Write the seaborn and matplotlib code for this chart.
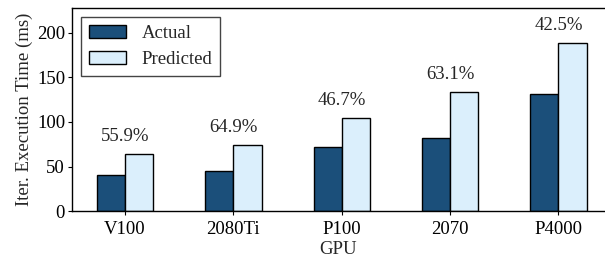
import seaborn as sns
import pandas as pd
import matplotlib.pyplot as plt

# data
gpus = ['V100', '2080Ti', 'P100', '2070', 'P4000']
actual = [40.5, 45.0, 71.5, 82.0, 131.8]
predicted = [63.7, 74.0, 104.8, 133.7, 188.4]
errors = ['55.9%', '64.9%', '46.7%', '63.1%', '42.5%']

sns.set_theme(style='ticks')
plt.rcParams['font.family'] = ['Liberation Serif', 'DejaVu Serif']
fs = 13.5

fig, ax = plt.subplots(figsize=(6.05, 2.58), dpi=100)
fig.subplots_adjust(left=0.119, right=1.0, top=0.969, bottom=0.182)

df = pd.DataFrame({'GPU': gpus * 2,
                   'time': actual + predicted,
                   'kind': ['Actual'] * 5 + ['Predicted'] * 5})

sns.barplot(df, x='GPU', y='time', hue='kind', order=gpus,
            palette=['#1b4f7a', '#dbeffc'], width=0.52,
            edgecolor='black', linewidth=1.0, saturation=1, ax=ax)

# error labels above each group
for i, txt in enumerate(errors):
    ax.text(i, predicted[i] + 10, txt, ha='center', va='bottom', fontsize=fs)

ax.set_xlim(-0.49, 4.43)
ax.set_ylim(0, 228)
ax.set_yticks([0, 50, 100, 150, 200])
ax.set_ylabel('Iter. Execution Time (ms)', fontsize=fs, labelpad=3)
ax.set_xlabel('GPU', fontsize=fs, labelpad=2)
ax.tick_params(labelsize=fs, length=3, width=0.8, colors='black', pad=2)
ax.tick_params(axis='x', pad=4)
ax.spines['right'].set_visible(False)
for s in ['left', 'top', 'bottom']:
    ax.spines[s].set_color('black')
    ax.spines[s].set_linewidth(1.0)

leg = ax.legend(loc='upper left', fontsize=fs, fancybox=False,
                edgecolor='#444444', framealpha=1, borderaxespad=0.5,
                handlelength=2.0, labelspacing=0.5)
leg.get_frame().set_linewidth(1.0)

fig.savefig('out.png', dpi=100)
